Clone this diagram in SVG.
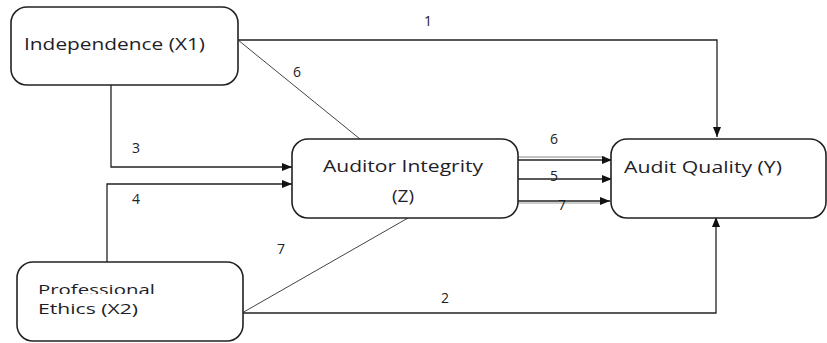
<svg xmlns="http://www.w3.org/2000/svg" width="827" height="343" viewBox="0 0 827 343">
<style>
.box{fill:#fff;stroke:#222;stroke-width:1.6}
.lbl{font-family:"Open Sans","Liberation Sans",sans-serif;font-size:16px;fill:#1e1e28}
.lbl2{font-family:"Open Sans","Liberation Sans",sans-serif;font-size:15px;fill:#1e1e28}
.num{font-family:"Open Sans","Liberation Sans",sans-serif;font-size:14px;fill:#222}
.ln{fill:none;stroke:#222;stroke-width:1.3}
.thin{fill:none;stroke:#444;stroke-width:1}
</style>
<defs>
<marker id="ah" markerWidth="10" markerHeight="8" refX="10" refY="4" orient="auto" markerUnits="userSpaceOnUse">
<path d="M0,0 L10,4 L0,8 Z" fill="#111"/>
</marker>
<clipPath id="clipPro"><rect x="0" y="0" width="300" height="294"/></clipPath>
</defs>
<rect width="827" height="343" fill="#fff"/>
<g id="connectors">
<path class="ln" d="M238,40 H717 V137" marker-end="url(#ah)"/>
<line class="thin" x1="238" y1="40" x2="360" y2="139"/>
<path class="ln" d="M111,85 V167 H292" marker-end="url(#ah)"/>
<path class="ln" d="M107,262 V184 H292" marker-end="url(#ah)"/>
<line class="thin" x1="242" y1="313" x2="408" y2="218"/>
<path class="ln" d="M242,313 H716 V217" marker-end="url(#ah)"/>
<line x1="518" y1="157" x2="605" y2="157" stroke="#888" stroke-width="1"/>
<line class="ln" x1="518" y1="160" x2="612" y2="160" marker-end="url(#ah)"/>
<line class="ln" x1="518" y1="179" x2="612" y2="179" marker-end="url(#ah)"/>
<line x1="518" y1="203" x2="600" y2="203" stroke="#999" stroke-width="1"/>
<line class="ln" x1="518" y1="201" x2="610" y2="201" marker-end="url(#ah)"/>
<text class="num" x="424" y="26">1</text>
<text class="num" x="293" y="77">6</text>
<text class="num" x="132" y="153">3</text>
<text class="num" x="132" y="204">4</text>
<text class="num" x="550" y="144">6</text>
<text class="num" x="550" y="181">5</text>
<text class="num" x="558" y="210">7</text>
<text class="num" x="277" y="254">7</text>
<text class="num" x="441" y="303">2</text>
</g>
<g id="independence">
<rect class="box" x="11" y="7" width="227" height="78" rx="16"/>
<text class="lbl" x="24" y="50" textLength="181" lengthAdjust="spacingAndGlyphs">Independence (X1)</text>
</g>
<g id="auditor-integrity">
<rect class="box" x="292" y="139" width="226" height="79" rx="16"/>
<text class="lbl" x="323" y="172" textLength="160" lengthAdjust="spacingAndGlyphs">Auditor Integrity</text>
<text class="lbl" x="392" y="202" textLength="22" lengthAdjust="spacingAndGlyphs">(Z)</text>
</g>
<g id="audit-quality">
<rect class="box" x="611" y="139" width="215" height="79" rx="16"/>
<text class="lbl" x="624" y="173" textLength="158" lengthAdjust="spacingAndGlyphs">Audit Quality (Y)</text>
</g>
<g id="professional-ethics">
<rect class="box" x="17" y="262" width="226" height="79" rx="16"/>
<text class="lbl2" x="38" y="295" textLength="117" lengthAdjust="spacingAndGlyphs" clip-path="url(#clipPro)">Professional</text>
<text class="lbl2" x="38" y="314" textLength="100" lengthAdjust="spacingAndGlyphs">Ethics (X2)</text>
</g>
</svg>
